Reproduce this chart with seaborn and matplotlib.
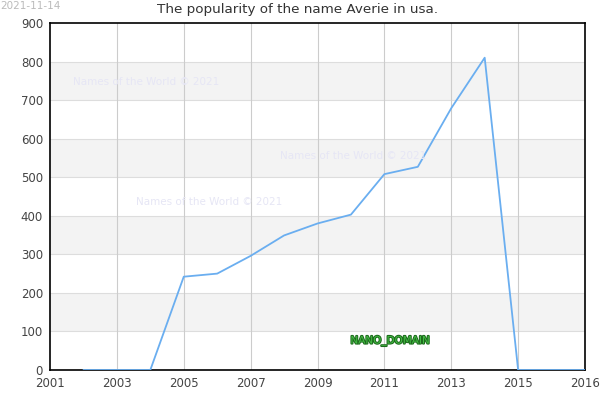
import pandas as pd
import matplotlib
matplotlib.use("Agg")
import matplotlib.pyplot as plt
import matplotlib.patheffects as pe
import seaborn as sns

years = [2002, 2003, 2004, 2005, 2006, 2007, 2008, 2009, 2010, 2011, 2012, 2013, 2014, 2015, 2016, 2017]
counts = [0, 0, 0, 242, 250, 296, 349, 380, 403, 508, 527, 679, 810, 0, 0, 0]
x_ticks = [2001, 2003, 2005, 2007, 2009, 2011, 2013, 2015, 2017]
x_labels = ['2001', '2003', '2005', '2007', '2009', '2011', '2013', '2015', '2016']
y_ticks = [0, 100, 200, 300, 400, 500, 600, 700, 800, 900]

df = pd.DataFrame({'year': years, 'count': counts})

sns.set_style("white")
plt.rcParams['font.family'] = ['DejaVu Sans']

fig = plt.figure(figsize=(6, 4), dpi=100)
ax = fig.add_axes([50 / 600, 30 / 400, 535 / 600, 347 / 400])

# alternating bands
for lo in range(100, 900, 200):
    ax.axhspan(lo, lo + 100, color='#f3f3f3', zorder=0, lw=0)
for y in y_ticks[1:-1]:
    ax.axhline(y, color='#dddddd', lw=0.8, zorder=1)
for x in x_ticks[1:-1]:
    ax.axvline(x, color='#cccccc', lw=0.8, zorder=1)

sns.lineplot(data=df, x='year', y='count', ax=ax, color='#6aaef0', lw=1.3, zorder=3)

ax.set_xlim(2001, 2017)
ax.set_ylim(0, 900)
ax.set_xticks(x_ticks)
ax.set_xticklabels(x_labels)
ax.set_yticks(y_ticks)
ax.tick_params(length=0, labelsize=8.5, labelcolor='#444444')
ax.tick_params(axis='x', pad=5)
ax.tick_params(axis='y', pad=5)
ax.set_xlabel('')
ax.set_ylabel('')
for s in ax.spines.values():
    s.set_color('black')
    s.set_linewidth(1.2)
    s.set_visible(True)

fig.text(298 / 600, 1 - 10 / 400, 'The popularity of the name Averie in usa.', fontsize=9.7,
         color='#333333', ha='center', va='center')
fig.text(0.0, 0.998, '2021-11-14', fontsize=7.5, color='#bbbbbb', va='top', ha='left')

wm = 'Names of the World © 2021'
for px, py in [(73, 82), (280, 156), (136, 202)]:
    fig.text(px / 600, 1 - py / 400, wm, fontsize=7.5, color='#e6e6f5', va='center', ha='left')

fig.text(390 / 600, 1 - 341 / 400, 'NANO_DOMAIN', fontsize=7.5, color='#44bb44', ha='center', va='center',
         path_effects=[pe.withStroke(linewidth=1.5, foreground='#1d6b1d')])

fig.savefig('out.png', dpi=100)
